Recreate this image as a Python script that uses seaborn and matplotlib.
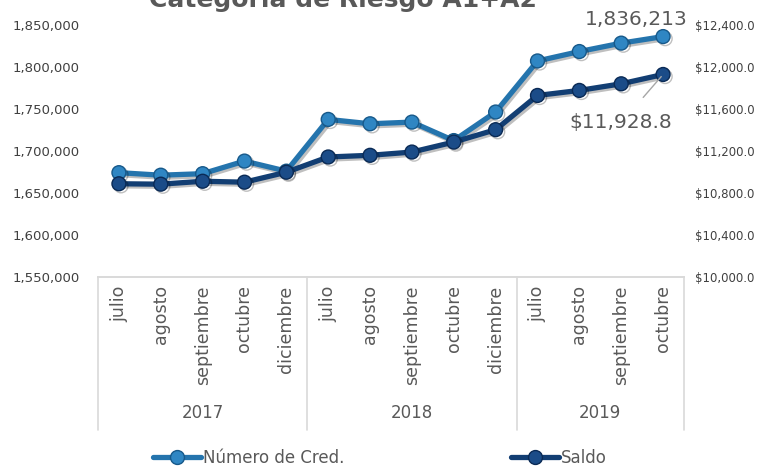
import numpy as np
import pandas as pd
import seaborn as sns
import matplotlib.pyplot as plt
import matplotlib.patheffects as pe
from matplotlib.lines import Line2D
from matplotlib.ticker import FuncFormatter

meses = ["julio", "agosto", "septiembre", "octubre", "diciembre",
         "julio", "agosto", "septiembre", "octubre", "diciembre",
         "julio", "agosto", "septiembre", "octubre"]
anios = ["2017", "2018", "2019"]
meses_por_anio = [5, 5, 4]
num_cred = [1674200, 1671200, 1673000, 1688000, 1676000,
            1737600, 1732400, 1734400, 1712400, 1746400,
            1807200, 1818400, 1828400, 1836213]
saldo = [10888, 10884, 10912, 10903, 10998,
         11143, 11159, 11190, 11285, 11403,
         11729, 11777, 11840, 11928.8]

df = pd.DataFrame({"pos": np.arange(len(meses)), "mes": meses,
                   "num_cred": num_cred, "saldo": saldo})

sns.set_style("white")
plt.rcParams["font.family"] = ["DejaVu Sans"]
gris = "#595959"
claro, claro_borde = "#2474AD", "#17598A"
oscuro, oscuro_borde = "#123E73", "#0A2A55"

fig = plt.figure(figsize=(7.59, 4.70), dpi=100)
ax = fig.add_axes([98 / 759, 1 - 277 / 470, (684 - 98) / 759, 252 / 470])
ax2 = ax.twinx()

sombra = [pe.SimpleLineShadow(offset=(1.5, -1.5), alpha=0.25), pe.Normal()]
sns.lineplot(data=df, x="pos", y="num_cred", ax=ax, color=claro, lw=3.8,
             marker="o", markersize=10, markerfacecolor="#2F86C3",
             markeredgecolor=claro_borde, markeredgewidth=1, path_effects=sombra)
sns.lineplot(data=df, x="pos", y="saldo", ax=ax2, color=oscuro, lw=3.8,
             marker="o", markersize=10, markerfacecolor="#1B4C88",
             markeredgecolor=oscuro_borde, markeredgewidth=1, path_effects=sombra)

ax.set_ylim(1550000, 1850000)
ax.set_yticks(np.arange(1550000, 1850001, 50000))
ax.yaxis.set_major_formatter(FuncFormatter(lambda v, p: f"{v:,.0f}"))
ax2.set_ylim(10000, 12400)
ax2.set_yticks(np.arange(10000, 12401, 400))
ax2.yaxis.set_major_formatter(FuncFormatter(lambda v, p: f"${v:,.1f}"))
ax.set_xlim(-0.5, len(meses) - 0.5)
ax.set_xticks(df["pos"])
ax.set_xticklabels(meses, rotation=90, fontsize=12.5, color=gris)
ax.tick_params(axis="x", length=0, pad=6)
ax.tick_params(axis="y", length=0, pad=13, labelsize=9.5, labelcolor="#404040")
ax2.tick_params(axis="y", length=0, pad=8, labelsize=8.5, labelcolor="#404040")
ax.set_xlabel("")
ax.set_ylabel("")
ax2.set_ylabel("")
for a in (ax, ax2):
    for s in ("top", "left", "right"):
        a.spines[s].set_visible(False)
    a.spines["bottom"].set_color("#D9D9D9")
    a.spines["bottom"].set_linewidth(1.2)

# separadores de años y etiquetas de grupo
trans = ax.get_xaxis_transform()
fondo = -(430 - 277) / 252
bordes = np.concatenate([[0], np.cumsum(meses_por_anio)]) - 0.5
for b in bordes:
    ax.plot([b, b], [0, fondo], transform=trans, color="#D9D9D9",
            lw=1.2, clip_on=False)
for anio, a0, a1 in zip(anios, bordes[:-1], bordes[1:]):
    ax.text((a0 + a1) / 2, -(413 - 277) / 252, anio, transform=trans,
            ha="center", va="center", fontsize=12, color=gris)

# etiquetas de datos
ax.text(df["pos"].iloc[-1] - 0.65, num_cred[-1] + 20000, f"{num_cred[-1]:,.0f}",
        ha="center", va="center", fontsize=14.5, color=gris)
ax2.annotate(f"${saldo[-1]:,.1f}", xy=(df["pos"].iloc[-1], saldo[-1]),
             xytext=(df["pos"].iloc[-1] - 1.0, saldo[-1] - 460),
             ha="center", va="center", fontsize=14.5, color=gris,
             arrowprops=dict(arrowstyle="-", color="#A6A6A6", lw=1,
                             shrinkA=12, shrinkB=2))

fig.text(0.452, 1 - 7 / 470, "Categoría de Riesgo A1+A2", ha="center",
         va="baseline", fontsize=18, fontweight="bold", color=gris)

handles = [Line2D([], [], color=claro, lw=3.8, marker="o", markersize=10,
                  markerfacecolor="#2F86C3", markeredgecolor=claro_borde),
           Line2D([], [], color=oscuro, lw=3.8, marker="o", markersize=10,
                  markerfacecolor="#1B4C88", markeredgecolor=oscuro_borde)]
fig.legend(handles, ["Número de Cred.", "Saldo"], loc="center",
           bbox_to_anchor=(0.5, 1 - 458 / 470), ncol=2, frameon=False,
           fontsize=12, labelcolor=gris, handlelength=2.9, handletextpad=0.1,
           columnspacing=10)

fig.savefig("out.png", dpi=100)
